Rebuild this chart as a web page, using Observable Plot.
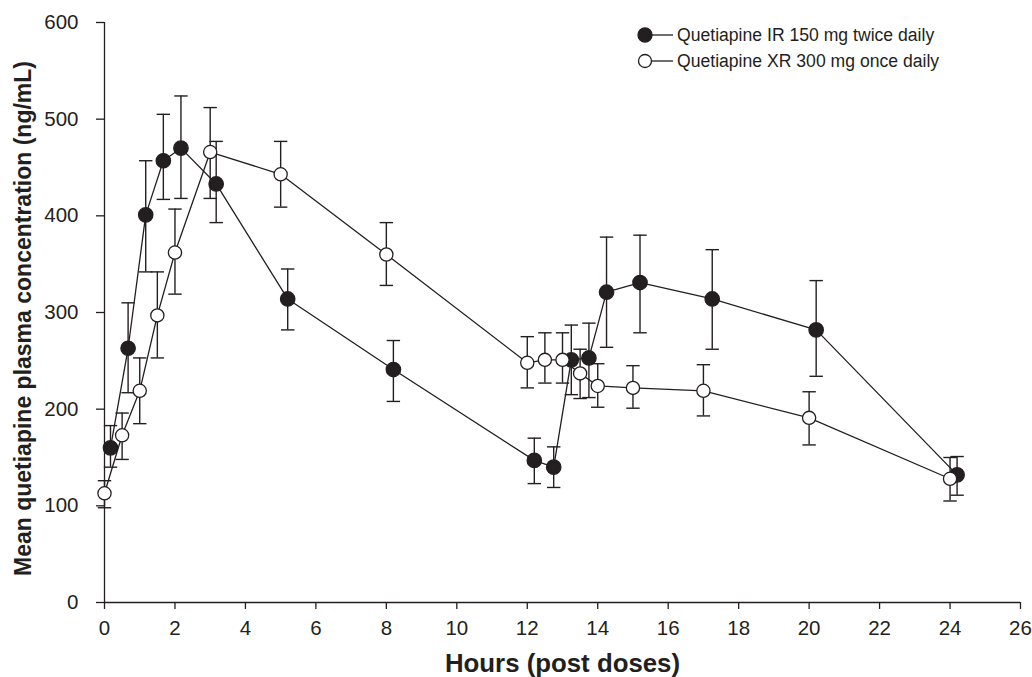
<!DOCTYPE html>
<html>
<head>
<meta charset="utf-8">
<script src="https://cdn.jsdelivr.net/npm/d3@7"></script>
<script src="https://cdn.jsdelivr.net/npm/@observablehq/plot@0.6"></script>
<style>
  html, body { margin: 0; padding: 0; background: #fff; }
  #wrap { position: relative; width: 1032px; height: 677px; font-family: "Liberation Sans", Arial, sans-serif; }
  #legend { position: absolute; left: 635px; top: 22px; font-size: 17.6px; color: #231f20; }
  #legend .row { display: flex; align-items: center; height: 26px; }
  #legend svg { margin-right: 2px; }
</style>
</head>
<body>
<div id="wrap"></div>
<script>
// ---- data ----
const irTime  = [0.17, 0.67, 1.17, 1.67, 2.17, 3.17, 5.2, 8.2, 12.2, 12.75, 13.25, 13.75, 14.25, 15.2, 17.25, 20.2, 24.2];
const irMean  = [160, 263, 401, 457, 470, 433, 314, 241, 147, 140, 251, 253, 321, 331, 314, 282, 132];
const irUpper = [183, 310, 457, 505, 524, 477, 345, 271, 170, 161, 287, 289, 378, 380, 365, 333, 151];
const irLower = [140, 217, 342, 417, 418, 393, 282, 208, 123, 119, 215, 212, 264, 279, 262, 234, 111];

const xrTime  = [0, 0.5, 1, 1.5, 2, 3, 5, 8, 12, 12.5, 13, 13.5, 14, 15, 17, 20, 24];
const xrMean  = [113, 173, 219, 297, 362, 466, 443, 360, 248, 251, 251, 237, 224, 222, 219, 191, 128];
const xrUpper = [126, 196, 253, 342, 407, 512, 477, 393, 275, 279, 279, 262, 247, 245, 246, 218, 150];
const xrLower = [98, 148, 185, 253, 319, 418, 409, 328, 222, 227, 227, 211, 202, 201, 193, 163, 105];

const seriesNames = ["Quetiapine IR 150 mg twice daily", "Quetiapine XR 300 mg once daily"];
const xTicks = d3.range(0, 27, 2);
const yTicks = d3.range(0, 601, 100);
const xLabel = "Hours (post doses)";
const yLabel = "Mean quetiapine plasma concentration (ng/mL)";

// ---- build tables ----
const ir = irTime.map((t, i) => ({t, m: irMean[i], hi: irUpper[i], lo: irLower[i]}));
const xr = xrTime.map((t, i) => ({t, m: xrMean[i], hi: xrUpper[i], lo: xrLower[i]}));

const ink = "#231f20";
const cap = { draw(context) { const w = 6.7; context.moveTo(-w, 0); context.lineTo(w, 0); } };

function seriesMarks(data, filled) {
  return [
    Plot.ruleX(data, {x: "t", y1: "lo", y2: "hi", stroke: ink, strokeWidth: 1.4}),
    Plot.dot(data, {x: "t", y: "hi", symbol: cap, r: 5, fill: "none", stroke: ink, strokeWidth: 1.4}),
    Plot.dot(data, {x: "t", y: "lo", symbol: cap, r: 5, fill: "none", stroke: ink, strokeWidth: 1.4}),
    Plot.line(data, {x: "t", y: "m", stroke: ink, strokeWidth: 1.3}),
    Plot.dot(data, {x: "t", y: "m", r: filled ? 7.2 : 6.6, fill: filled ? ink : "white", stroke: ink, strokeWidth: 1.3})
  ];
}

const chart = Plot.plot({
  width: 1032,
  height: 677,
  marginLeft: 104,
  marginRight: 12,
  marginTop: 22,
  marginBottom: 75,
  style: {fontFamily: "'Liberation Sans', Arial, sans-serif", fontSize: "20px", color: ink, background: "white", overflow: "visible"},
  x: {domain: [0, 26]},
  y: {domain: [0, 600]},
  marks: [
    Plot.axisX({ticks: xTicks, tickSize: 7, tickPadding: 11, label: null, fontSize: 20.5, tickFormat: d => String(d), stroke: ink, strokeWidth: 1.3}),
    Plot.axisY({ticks: yTicks, tickSize: 8, tickPadding: 18, label: null, fontSize: 20.5, tickFormat: d => String(d), stroke: ink, strokeWidth: 1.3}),
    Plot.ruleX([0], {stroke: ink, strokeWidth: 1.3}),
    Plot.ruleY([0], {stroke: ink, strokeWidth: 1.3}),
    ...seriesMarks(ir, true),
    ...seriesMarks(xr, false),
    Plot.text([xLabel], {frameAnchor: "bottom", dy: 69, text: d => d, fontSize: 25.8, fontWeight: "bold", fill: ink}),
    Plot.text([yLabel], {frameAnchor: "left", textAnchor: "middle", rotate: -90, dx: -81, dy: 6, text: d => d, fontSize: 23, fontWeight: "bold", fill: ink})
  ]
});

const wrap = document.getElementById("wrap");
wrap.appendChild(chart);

// legend (HTML overlay inside the plot area, top-right)
const legend = document.createElement("div");
legend.id = "legend";
seriesNames.forEach((name, i) => {
  const row = document.createElement("div");
  row.className = "row";
  const filled = i === 0;
  row.innerHTML = `<svg width="40" height="20" viewBox="0 0 40 20">
      <line x1="10" y1="10" x2="38" y2="10" stroke="${ink}" stroke-width="1.3"/>
      <circle cx="10" cy="10" r="${filled ? 7 : 6.5}" fill="${filled ? ink : "white"}" stroke="${ink}" stroke-width="1.3"/>
    </svg><span>${name}</span>`;
  legend.appendChild(row);
});
wrap.appendChild(legend);
</script>
</body>
</html>
